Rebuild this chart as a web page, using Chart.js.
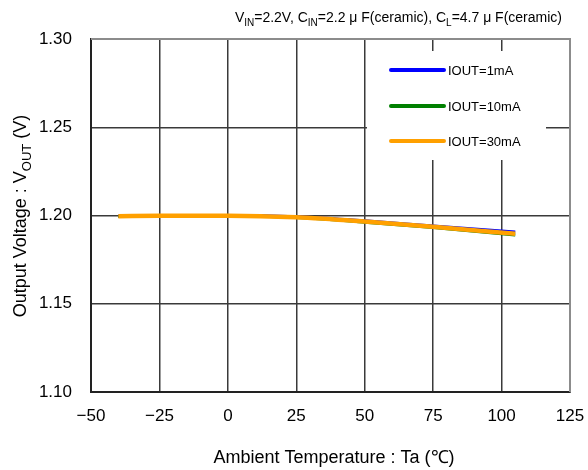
<!DOCTYPE html>
<html>
<head>
<meta charset="utf-8">
<script src="https://cdn.jsdelivr.net/npm/chart.js@4"></script>
<style>
  html, body { margin: 0; padding: 0; background: #fff; }
  #wrap { width: 588px; height: 470px; }
</style>
</head>
<body>
<div id="wrap"><canvas id="vout"></canvas></div>
<script>
// temperature points (degC)
const temps = [-40, -25, 0, 25, 50, 75, 105];
// output voltage per load current (V)
const iout1 = [1.1997, 1.1999, 1.2000, 1.1993, 1.1970, 1.1940, 1.1906];
const iout10 = [1.1995, 1.1997, 1.1998, 1.1988, 1.1962, 1.1932, 1.1890];
const iout30 = [1.1996, 1.1998, 1.1999, 1.1990, 1.1966, 1.1936, 1.1896];

const seriesNames = ["IOUT=1mA", "IOUT=10mA", "IOUT=30mA"];
const seriesColors = ["#0000ff", "#008000", "#ffa000"];

const xTicks = [-50, -25, 0, 25, 50, 75, 100, 125];
const yTicks = [1.10, 1.15, 1.20, 1.25, 1.30];

const FONT = "'Liberation Sans', Arial, sans-serif";

function pts(vals) {
  return temps.map((t, i) => ({ x: t, y: vals[i] }));
}

// text with subscripts: parts = [[text, isSub], ...]
function drawRich(ctx, parts, x, y, size, align) {
  const subSize = Math.round(size * 0.7);
  let total = 0;
  parts.forEach(([t, sub]) => {
    ctx.font = (sub ? subSize : size) + "px " + FONT;
    total += ctx.measureText(t).width;
  });
  let cx = align === "right" ? x - total : align === "center" ? x - total / 2 : x;
  ctx.textAlign = "left";
  ctx.textBaseline = "alphabetic";
  parts.forEach(([t, sub]) => {
    ctx.font = (sub ? subSize : size) + "px " + FONT;
    ctx.fillText(t, cx, sub ? y + size * 0.25 : y);
    cx += ctx.measureText(t).width;
  });
}

const decorPlugin = {
  id: "decor",
  afterDatasetsDraw(chart) {
    const ctx = chart.ctx;
    const a = chart.chartArea;
    ctx.save();

    // top / right frame in grey
    ctx.strokeStyle = "#8c8c8c";
    ctx.lineWidth = 2;
    ctx.beginPath();
    ctx.moveTo(a.left, a.top);
    ctx.lineTo(a.right, a.top);
    ctx.lineTo(a.right, a.bottom);
    ctx.stroke();

    // legend box
    ctx.fillStyle = "#fff";
    ctx.fillRect(367, 51, 179, 109);
    const rows = [70, 106, 141];
    seriesNames.forEach((name, i) => {
      ctx.strokeStyle = seriesColors[i];
      ctx.lineWidth = 4;
      ctx.lineCap = "round";
      ctx.beginPath();
      ctx.moveTo(391, rows[i]);
      ctx.lineTo(444, rows[i]);
      ctx.stroke();
      ctx.fillStyle = "#000";
      ctx.font = "13px " + FONT;
      ctx.textAlign = "left";
      ctx.textBaseline = "middle";
      ctx.fillText(name, 448, rows[i] + 1);
    });

    ctx.fillStyle = "#000";
    // top annotation
    drawRich(ctx, [["V", 0], ["IN", 1], ["=2.2V, C", 0], ["IN", 1], ["=2.2 \u03bc F(ceramic), C", 0], ["L", 1], ["=4.7 \u03bc F(ceramic)", 0]], 562, 22, 14, "right");

    // x title
    ctx.font = "18px " + FONT;
    ctx.textAlign = "center";
    ctx.textBaseline = "middle";
    ctx.fillText("Ambient Temperature : Ta (\u2103)", 334, 458);

    // y title (rotated, with subscript)
    ctx.translate(20, 216);
    ctx.rotate(-Math.PI / 2);
    drawRich(ctx, [["Output Voltage : V", 0], ["OUT", 1], [" (V)", 0]], 0, 6, 18, "center");
    ctx.restore();
  }
};

new Chart(document.getElementById("vout"), {
  type: "line",
  data: {
    datasets: [
      { label: seriesNames[0], data: pts(iout1), borderColor: seriesColors[0], borderWidth: 3, order: 3 },
      { label: seriesNames[1], data: pts(iout10), borderColor: seriesColors[1], borderWidth: 3, order: 2 },
      { label: seriesNames[2], data: pts(iout30), borderColor: seriesColors[2], borderWidth: 4.5, order: 1 }
    ]
  },
  options: {
    responsive: true,
    maintainAspectRatio: false,
    animation: false,
    layout: { padding: { top: 39, right: 18, left: 0, bottom: 0 } },
    elements: {
      point: { radius: 0 },
      line: { tension: 0.4, cubicInterpolationMode: "monotone", fill: false }
    },
    plugins: {
      legend: { display: false },
      tooltip: { enabled: false }
    },
    scales: {
      x: {
        type: "linear",
        min: xTicks[0],
        max: xTicks[xTicks.length - 1],
        afterBuildTicks: (s) => { s.ticks = xTicks.map(v => ({ value: v })); },
        afterFit: (s) => { s.height = 78; s.paddingLeft = 0; s.paddingRight = 0; },
        grid: { color: "#3a3a3a", lineWidth: 1.5, tickLength: 0 },
        border: { color: "#222", width: 2 },
        ticks: {
          padding: 14,
          color: "#000",
          font: { size: 17, family: FONT },
          callback: (v) => (v < 0 ? "\u2212" + Math.abs(v) : String(v))
        }
      },
      y: {
        min: yTicks[0],
        max: yTicks[yTicks.length - 1],
        afterBuildTicks: (s) => { s.ticks = yTicks.map(v => ({ value: v })); },
        afterFit: (s) => { s.width = 91; s.paddingTop = 0; s.paddingBottom = 0; },
        grid: { color: "#3a3a3a", lineWidth: 1.5, tickLength: 0 },
        border: { color: "#222", width: 2 },
        ticks: {
          padding: 19,
          color: "#000",
          font: { size: 17, family: FONT },
          callback: (v) => Number(v).toFixed(2)
        }
      }
    }
  },
  plugins: [decorPlugin]
});
</script>
</body>
</html>
